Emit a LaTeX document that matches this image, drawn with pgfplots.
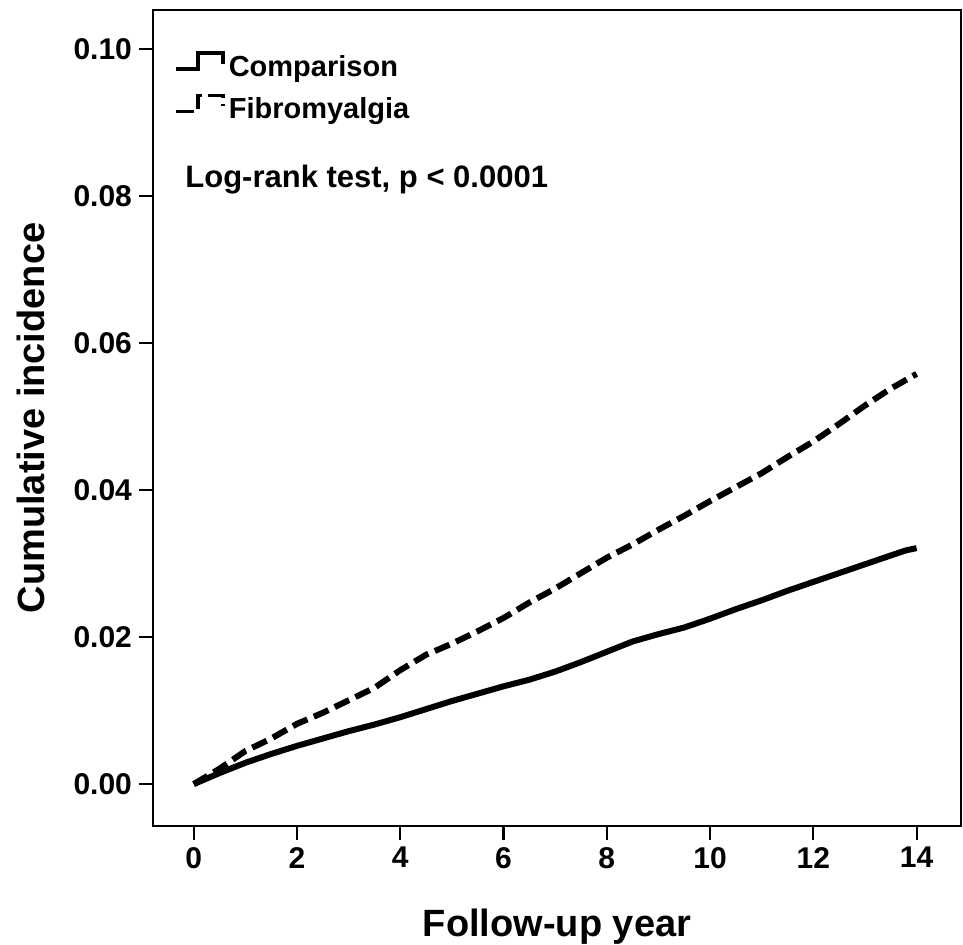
\documentclass[border=0pt]{standalone}
\usepackage{fontspec}
\setmainfont{Liberation Sans}
\usepackage{pgfplots}
\pgfplotsset{compat=1.18}

% cumulative incidence
\begin{document}
\begin{tikzpicture}
\begin{axis}[
    scale only axis,
    width=404pt, height=408pt,
    xmin=-0.79, xmax=14.86,
    ymin=-0.0057, ymax=0.1053,
    xtick={0,2,...,14},
    ytick={0,0.02,0.04,0.06,0.08,0.10},
    tick pos=left,
    tick align=outside,
    major tick length=7pt,
    axis line style={line width=1.1pt},
    tick style={black, line width=1.1pt},
    /pgf/number format/assume math mode=true,
    ticklabel style={font=\fontsize{15}{18}\selectfont\bfseries},
    yticklabel style={/pgf/number format/.cd, fixed, fixed zerofill, precision=2},
    scaled y ticks=false,
    xlabel={Follow-up year},
    ylabel={Cumulative incidence},
    label style={font=\fontsize{19}{23}\selectfont\bfseries},
    xlabel style={at={(axis description cs:0.5,-0.136)}, anchor=base},
    ylabel style={at={(axis description cs:-0.151,0.5)}, anchor=center},
    legend style={draw=none, fill=none, at={(axis description cs:0.026,0.95)},
        anchor=north west, inner sep=0pt, row sep=5pt,
        font=\fontsize{14.5}{17}\selectfont\bfseries},
    legend cell align=left,
]
\coordinate (bl) at (rel axis cs:0,0);
\coordinate (tr) at (rel axis cs:1,1);

\addplot[black, line width=3pt, line join=round, forget plot] coordinates {
(0,0) (0.5,0.0015) (1,0.0029) (1.5,0.0041) (2,0.0052) (2.5,0.0062) (3,0.0072)
(3.5,0.0081) (4,0.0091) (4.5,0.0102) (5,0.0113) (5.5,0.0123) (6,0.0133)
(6.5,0.0142) (7,0.0153) (7.5,0.0166) (8,0.0180) (8.5,0.0194) (9,0.0204)
(9.5,0.0213) (10,0.0225) (10.5,0.0238) (11,0.0250) (11.5,0.0263) (12,0.0275)
(12.5,0.0287) (13,0.0299) (13.5,0.0311) (13.8,0.0318) (14,0.0321)
};
\addplot[black, line width=3pt, dash pattern=on 8pt off 3.5pt, forget plot] coordinates {
(0,0) (0.5,0.0021) (1,0.0045) (1.5,0.0062) (2,0.0082) (2.5,0.0097) (3,0.0114)
(3.5,0.0131) (4,0.0155) (4.5,0.0176) (5,0.0191) (5.5,0.0208) (6,0.0226)
(6.5,0.0247) (7,0.0266) (7.5,0.0287) (8,0.0308) (8.5,0.0326) (9,0.0346)
(9.5,0.0365) (10,0.0385) (10.5,0.0404) (11,0.0423) (11.5,0.0445) (12,0.0466)
(12.5,0.0490) (13,0.0515) (13.5,0.0538) (14,0.0558)
};

\addlegendimage{legend image code/.code={
    \draw[black, line width=1.7pt] (0pt,-1pt) -- (11pt,-1pt) -- (11pt,7pt)
        -- (23.5pt,7pt) -- (23.5pt,1.5pt);}}
\addlegendentry{Comparison}
\addlegendimage{legend image code/.code={
    \draw[black, line width=1.7pt, dash pattern=on 9pt off 3pt] (0pt,-1pt) -- (11pt,-1pt)
        -- (11pt,7pt) -- (23.5pt,7pt) -- (23.5pt,1.5pt);}}
\addlegendentry{Fibromyalgia}

\node[anchor=base west, inner sep=0pt, font=\fontsize{15.5}{18}\selectfont\bfseries]
    at (axis description cs:0.0396,0.782) {Log-rank test, p < 0.0001};
\end{axis}
\pgfresetboundingbox
\path[use as bounding box] ([shift={(-76.5pt,-59.5pt)}]bl) rectangle ([shift={(1pt,5pt)}]tr);
\end{tikzpicture}
\end{document}
